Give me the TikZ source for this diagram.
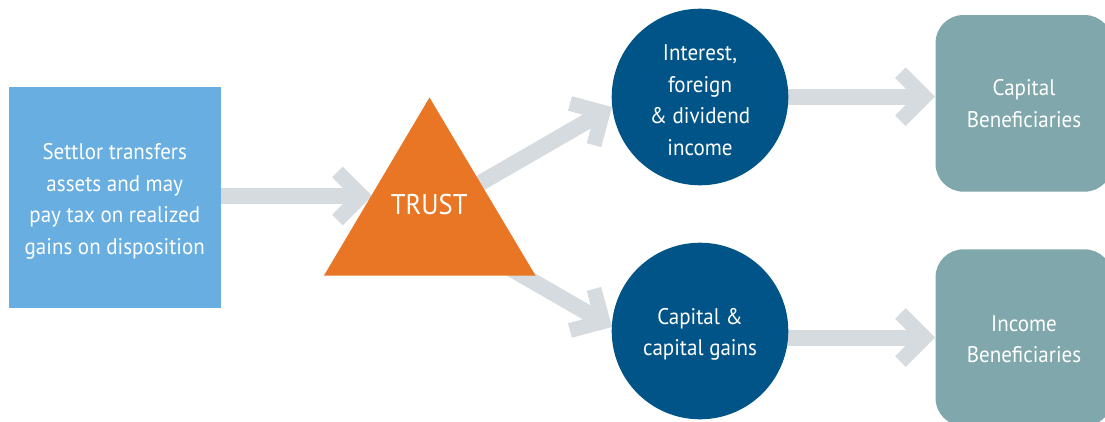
\documentclass[tikz,border=0pt]{standalone}
\usepackage{fontspec}
\setmainfont{PT Sans}[FakeStretch=0.93]
\usetikzlibrary{calc,backgrounds}
\definecolor{settlorblue}{RGB}{104,174,225}
\definecolor{trustorange}{RGB}{232,118,36}
\definecolor{circblue}{RGB}{0,84,135}
\definecolor{benefteal}{RGB}{128,167,171}
\definecolor{arrowgray}{RGB}{214,219,223}
\tikzset{
  bodytext/.style={text=white, align=center, font=\fontsize{22.6}{31.7}\selectfont},
  settlorbox/.style={bodytext, fill=settlorblue, rectangle, inner sep=0pt, minimum width=212.5pt, minimum height=220.5pt},
  circ/.style={bodytext, fill=circblue, circle, inner sep=0pt, minimum size=176.6pt},
  benef/.style={bodytext, fill=benefteal, rectangle, rounded corners=28pt, inner sep=0pt, minimum width=177pt, minimum height=176.7pt},
  shaft/.style={draw=arrowgray, line width=16pt, line cap=butt},
  chev/.style={draw=arrowgray, line width=15pt, line cap=butt, line join=miter},
}
\begin{document}
\begin{tikzpicture}[x=1pt,y=-1pt]
\useasboundingbox (0,0) rectangle (1105,421);
% shapes
\node[settlorbox] (settlor) at (114.75,197.25) {\rule{0pt}{24pt}Settlor transfers\\assets and may\\pay tax on realized\\gains on disposition};
\coordinate (triL) at (324,275.5);
\coordinate (triR) at (535.5,275.5);
\coordinate (triT) at (429.5,97.5);
\fill[trustorange] (triL) -- (triR) -- (triT) -- cycle;
\node[text=white, font=\fontsize{28.5}{34}\selectfont, inner sep=0pt] (trust) at (429.2,204.7) {TRUST};
\node[circ] (inc) at (700,97) {\rule{0pt}{22pt}Interest,\\foreign\\\&~dividend\\income};
\node[circ] (capg) at (700,331) {\rule{0pt}{23pt}Capital \&\\capital gains};
\node[benef] (capb) at (1024,103.35) {Capital\\Beneficiaries};
\node[benef] (incb) at (1024,337.65) {\rule{0pt}{19pt}Income\\Beneficiaries};
% connectors
\coordinate (v1) at (361.4,196);
\coordinate (s2) at (464.2,192.3);
\coordinate (v2) at (602.8,112.3);
\coordinate (s3) at (490.2,256.7);
\coordinate (v3) at (602.8,321.7);
\coordinate (v4) at (924.4,96.7);
\coordinate (v5) at (924.4,337.5);
\begin{scope}[on background layer]
\draw[shaft] (settlor.center |- v1) -- (v1);
\draw[chev] ($(v1)+(135:34)$) -- (v1) -- ($(v1)+(225:34)$);
\draw[shaft] (s2) -- (v2);
\draw[chev] ($(v2)+(195:34)$) -- (v2) -- ($(v2)+(105:34)$);
\draw[shaft] (s3) -- (v3);
\draw[chev] ($(v3)+(255:34)$) -- (v3) -- ($(v3)+(165:34)$);
\draw[shaft] (inc.center |- v4) -- (v4);
\draw[chev] ($(v4)+(135:34)$) -- (v4) -- ($(v4)+(225:34)$);
\draw[shaft] (capg.center |- v5) -- (v5);
\draw[chev] ($(v5)+(135:34)$) -- (v5) -- ($(v5)+(225:34)$);
\end{scope}
\end{tikzpicture}
\end{document}
